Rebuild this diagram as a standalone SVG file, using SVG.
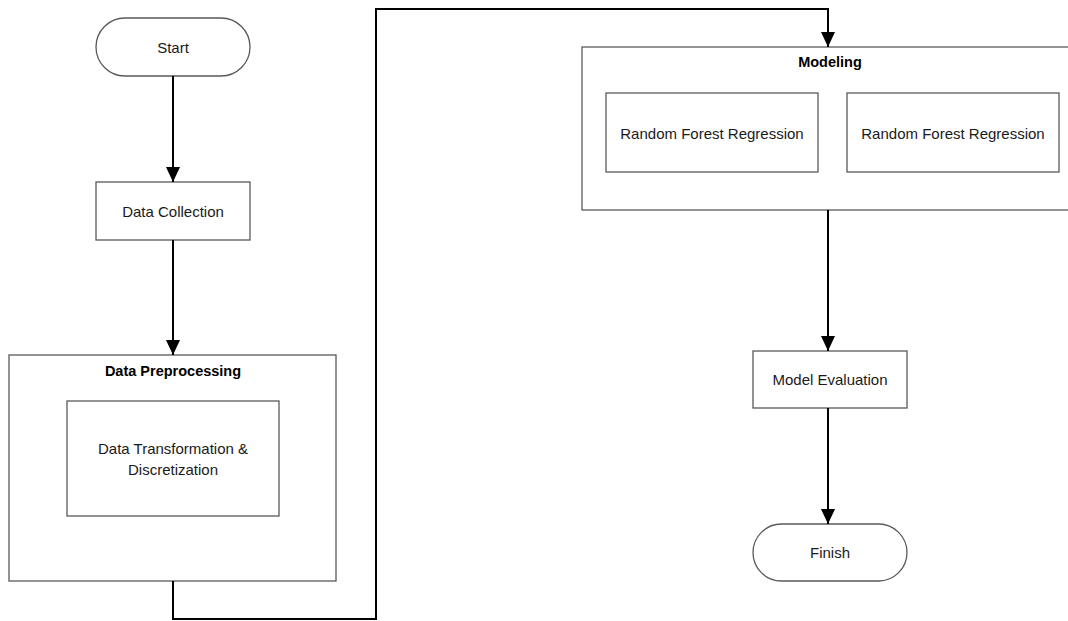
<svg xmlns="http://www.w3.org/2000/svg" width="1068" height="621" viewBox="0 0 1068 621">
<style>
.box{fill:#fff;stroke:#595959;stroke-width:1.3}
.t{font-family:"Liberation Sans",Arial,sans-serif;font-size:15px;fill:#1a1a1a;text-anchor:middle;dominant-baseline:central}
.b{font-weight:bold;fill:#000;font-size:14.5px}
.c{fill:none;stroke:#000;stroke-width:2}
</style>
<defs>
<marker id="ah" viewBox="0 0 15 14" refX="15" refY="7" markerWidth="15" markerHeight="14" markerUnits="userSpaceOnUse" orient="auto">
<path d="M0,0 L15,7 L0,14 Z" fill="#000"/>
</marker>
</defs>
<rect width="1068" height="621" fill="#fff"/>
<g id="start"><rect class="box" x="96" y="18" width="154" height="58" rx="29"/><text class="t" x="173" y="47">Start</text></g>
<g id="data-collection"><rect class="box" x="96" y="182" width="154" height="58"/><text class="t" x="173" y="211">Data Collection</text></g>
<g id="data-preprocessing"><rect class="box" x="9" y="355" width="327" height="226"/><text class="t b" x="173" y="371">Data Preprocessing</text></g>
<g id="data-transformation"><rect class="box" x="67" y="401" width="212" height="115"/><text class="t" x="173" y="448">Data Transformation &amp;</text><text class="t" x="173" y="469">Discretization</text></g>
<g id="modeling"><rect class="box" x="582" y="47" width="500" height="163"/><text class="t b" x="830" y="62">Modeling</text></g>
<g id="rfr1"><rect class="box" x="606" y="93" width="212" height="79"/><text class="t" x="712" y="133">Random Forest Regression</text></g>
<g id="rfr2"><rect class="box" x="847" y="93" width="212" height="79"/><text class="t" x="953" y="133">Random Forest Regression</text></g>
<g id="model-evaluation"><rect class="box" x="753" y="351" width="154" height="57"/><text class="t" x="830" y="379">Model Evaluation</text></g>
<g id="finish"><rect class="box" x="753" y="524" width="154" height="57" rx="28.5"/><text class="t" x="830" y="552">Finish</text></g>
<g id="connectors">
<path class="c" d="M173,76 V182" marker-end="url(#ah)"/>
<path class="c" d="M173,240 V355" marker-end="url(#ah)"/>
<path class="c" d="M173,581 V619 H376 V9 H828 V47" marker-end="url(#ah)"/>
<path class="c" d="M828,210 V351" marker-end="url(#ah)"/>
<path class="c" d="M828,408 V524" marker-end="url(#ah)"/>
</g>
</svg>
